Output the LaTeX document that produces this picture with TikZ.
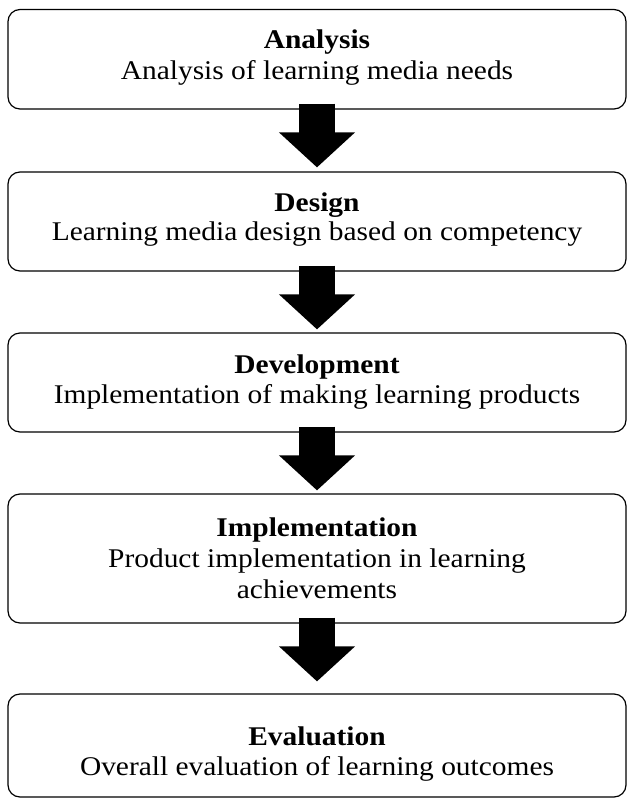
\documentclass[tikz,border=0pt]{standalone}
\usepackage{fontspec}
\setmainfont{Liberation Serif}[FakeStretch=1.09]
\usetikzlibrary{arrows.meta}

\tikzset{
  stage/.style={draw=black, line width=1.2pt, rounded corners=12pt,
                minimum width=618pt, inner sep=0pt},
  title/.style={font=\fontsize{27}{32}\selectfont\bfseries, anchor=base, inner sep=0pt},
  desc/.style={font=\fontsize{27}{32}\selectfont, anchor=base, inner sep=0pt},
  bigarrow/.style={line width=36pt, draw=black,
                   -{Triangle[length=35pt, width=74pt]}}
}

\begin{document}
\begin{tikzpicture}[x=1pt, y=1pt]
  \useasboundingbox (0,0) rectangle (627,-809);

  % stage boxes
  \node[stage, minimum height=99.5pt] (b1) at (317,-59.25) {};
  \node[stage, minimum height=99pt]   (b2) at (317,-221.5) {};
  \node[stage, minimum height=99pt]   (b3) at (317,-382.5) {};
  \node[stage, minimum height=129pt]  (b4) at (317,-558.5) {};
  \node[stage, minimum height=103pt]  (b5) at (317,-745.5) {};

  % stage texts
  \node[title] (t1) at (317,-48)  {Analysis};
  \node[desc]  (d1) at (317,-79)  {Analysis of learning media needs};

  \node[title] (t2) at (317,-211) {Design};
  \node[desc]  (d2) at (317,-240) {Learning media design based on competency};

  \node[title] (t3) at (317,-373) {Development};
  \node[desc]  (d3) at (317,-403) {Implementation of making learning products};

  \node[title] (t4) at (317,-536) {Implementation};
  \node[desc]  (d4) at (317,-567) {Product implementation in learning};
  \node[desc]  (e4) at (317,-598) {achievements};

  \node[title] (t5) at (317,-745) {Evaluation};
  \node[desc]  (d5) at (317,-775) {Overall evaluation of learning outcomes};

  % block arrows between stages
  \draw[bigarrow] ([yshift=6pt]b1.south) -- ([yshift=4pt]b2.north);
  \draw[bigarrow] ([yshift=6pt]b2.south) -- ([yshift=3pt]b3.north);
  \draw[bigarrow] ([yshift=6pt]b3.south) -- ([yshift=3pt]b4.north);
  \draw[bigarrow] ([yshift=6pt]b4.south) -- ([yshift=12pt]b5.north);
\end{tikzpicture}
\end{document}
